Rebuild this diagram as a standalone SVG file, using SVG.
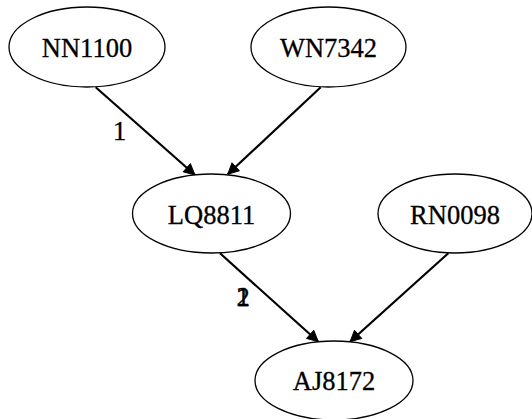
<svg xmlns="http://www.w3.org/2000/svg" width="532" height="419" viewBox="0 0 532 419">
  <defs>
    <marker id="arrow" viewBox="0 0 10 10" refX="10" refY="5" markerWidth="16" markerHeight="11" markerUnits="userSpaceOnUse" orient="auto" overflow="visible">
      <path d="M0,0 L10,5 L0,10 Z" fill="#000" stroke="#000" stroke-width="0.8"/>
    </marker>
    <style>
      .node ellipse { fill: #fff; stroke: #000; stroke-width: 1.3; }
      .node text, .lbl { font-family: "Liberation Serif", "Times New Roman", serif; font-size: 26.5px; fill: #000; stroke: #000; stroke-width: 0.3; }
      .node text { text-anchor: middle; }
      .lbl { text-anchor: middle; }
      .edge { stroke: #000; stroke-width: 2.2; fill: none; }
    </style>
  </defs>
  <rect width="532" height="419" fill="#fff"/>

  <g id="edges">
    <path class="edge" d="M95.7,87.3 L195,175" marker-end="url(#arrow)"/>
    <path class="edge" d="M320.7,87.3 L227.7,174.3" marker-end="url(#arrow)"/>
    <path class="edge" d="M220,253.3 L318.3,341.7" marker-end="url(#arrow)"/>
    <path class="edge" d="M448.3,253.3 L350,341.7" marker-end="url(#arrow)"/>
    <text class="lbl" x="119.5" y="140">1</text>
    <text class="lbl" x="243" y="306">1</text>
    <text class="lbl" x="243" y="306">2</text>
  </g>

  <g id="NN1100" class="node">
    <ellipse cx="87" cy="47" rx="78" ry="40"/>
    <text x="87" y="57">NN1100</text>
  </g>
  <g id="WN7342" class="node">
    <ellipse cx="328.5" cy="47" rx="77.5" ry="40"/>
    <text x="328.5" y="57">WN7342</text>
  </g>
  <g id="LQ8811" class="node">
    <ellipse cx="211.5" cy="213.5" rx="79" ry="39.5"/>
    <text x="211.5" y="224">LQ8811</text>
  </g>
  <g id="RN0098" class="node">
    <ellipse cx="455" cy="213.5" rx="77" ry="39.5"/>
    <text x="455" y="224">RN0098</text>
  </g>
  <g id="AJ8172" class="node">
    <ellipse cx="334" cy="380.5" rx="79" ry="39.5"/>
    <text x="334" y="390">AJ8172</text>
  </g>
</svg>
